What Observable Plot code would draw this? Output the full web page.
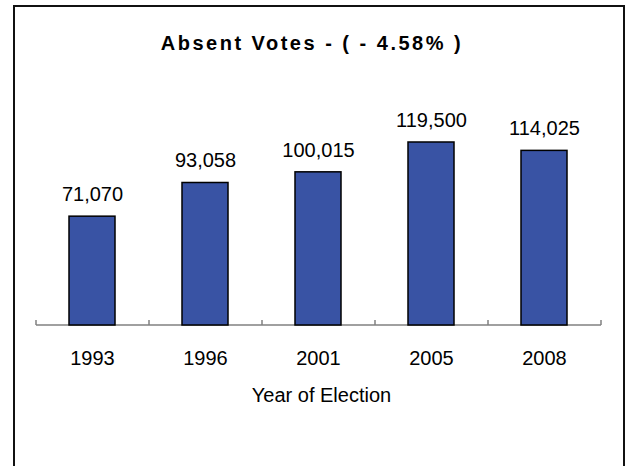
<!DOCTYPE html>
<html><head><meta charset="utf-8">
<script src="https://cdn.jsdelivr.net/npm/d3@7"></script>
<script src="https://cdn.jsdelivr.net/npm/@observablehq/plot@0.6"></script>
<style>
body{margin:0;background:#fff;}
#wrap{position:relative;width:626px;height:466px;overflow:hidden;}
#chart{position:absolute;left:0;top:0;}
#border{position:absolute;left:13px;top:5px;width:608px;height:480px;border:2px solid #111;pointer-events:none;}
</style></head><body><div id="wrap"><div id="chart"></div><div id="border"></div></div>
<script>
const title = "Absent Votes - ( - 4.58% )";
const xLabel = "Year of Election";
const years = ["1993", "1996", "2001", "2005", "2008"];
const votes = [71070, 93058, 100015, 119500, 114025];

const data = years.map((y, i) => ({year: y, votes: votes[i]}));
const font = "'Liberation Sans', Arial, sans-serif";

const axisLine = (index, scales, values, dimensions) => {
  const {width, marginLeft, marginRight} = dimensions;
  const x0 = marginLeft, x1 = width - marginRight, yb = scales.y(0);
  const step = (x1 - x0) / years.length;
  const g = d3.create("svg:g").attr("stroke", "#808080").attr("stroke-width", 1.5).attr("fill", "none");
  g.append("line").attr("x1", x0).attr("x2", x1).attr("y1", yb).attr("y2", yb);
  d3.range(years.length + 1).forEach(i => {
    const x = x0 + i * step;
    g.append("line").attr("x1", x).attr("x2", x).attr("y1", yb).attr("y2", yb - 5);
  });
  return g.node();
};

const chart = Plot.plot({
  width: 626,
  height: 466,
  marginLeft: 36,
  marginRight: 25,
  marginTop: 110.6,
  marginBottom: 141,
  style: {fontFamily: font, background: "transparent", color: "#000", overflow: "visible"},
  x: {domain: years, paddingInner: 0.59, paddingOuter: 0.295},
  y: {domain: [0, 140000], axis: null},
  marks: [
    axisLine,
    Plot.barY(data, {x: "year", y: "votes", fill: "#3953a4", stroke: "#000", strokeWidth: 1.5}),
    Plot.text(data, {x: "year", y: "votes", text: d => d3.format(",")(d.votes), dy: -15.5, lineAnchor: "bottom", fontSize: 20, fill: "#000"}),
    Plot.axisX({tickSize: 0, tickPadding: 24.8, fontSize: 20, label: null}),
    Plot.text([xLabel], {frameAnchor: "bottom", lineAnchor: "top", dy: 62.5, dx: 2.5, fontSize: 20, fill: "#000"}),
    Plot.text([title], {frameAnchor: "top", lineAnchor: "bottom", dy: -61.1, dx: -7, fontSize: 20, fontWeight: "bold", fill: "#000"})
  ]
});
d3.select(chart).selectAll("text").filter(function() { return this.textContent === title; })
  .style("letter-spacing", "2.5px");
document.getElementById("chart").appendChild(chart);
</script></body></html>
